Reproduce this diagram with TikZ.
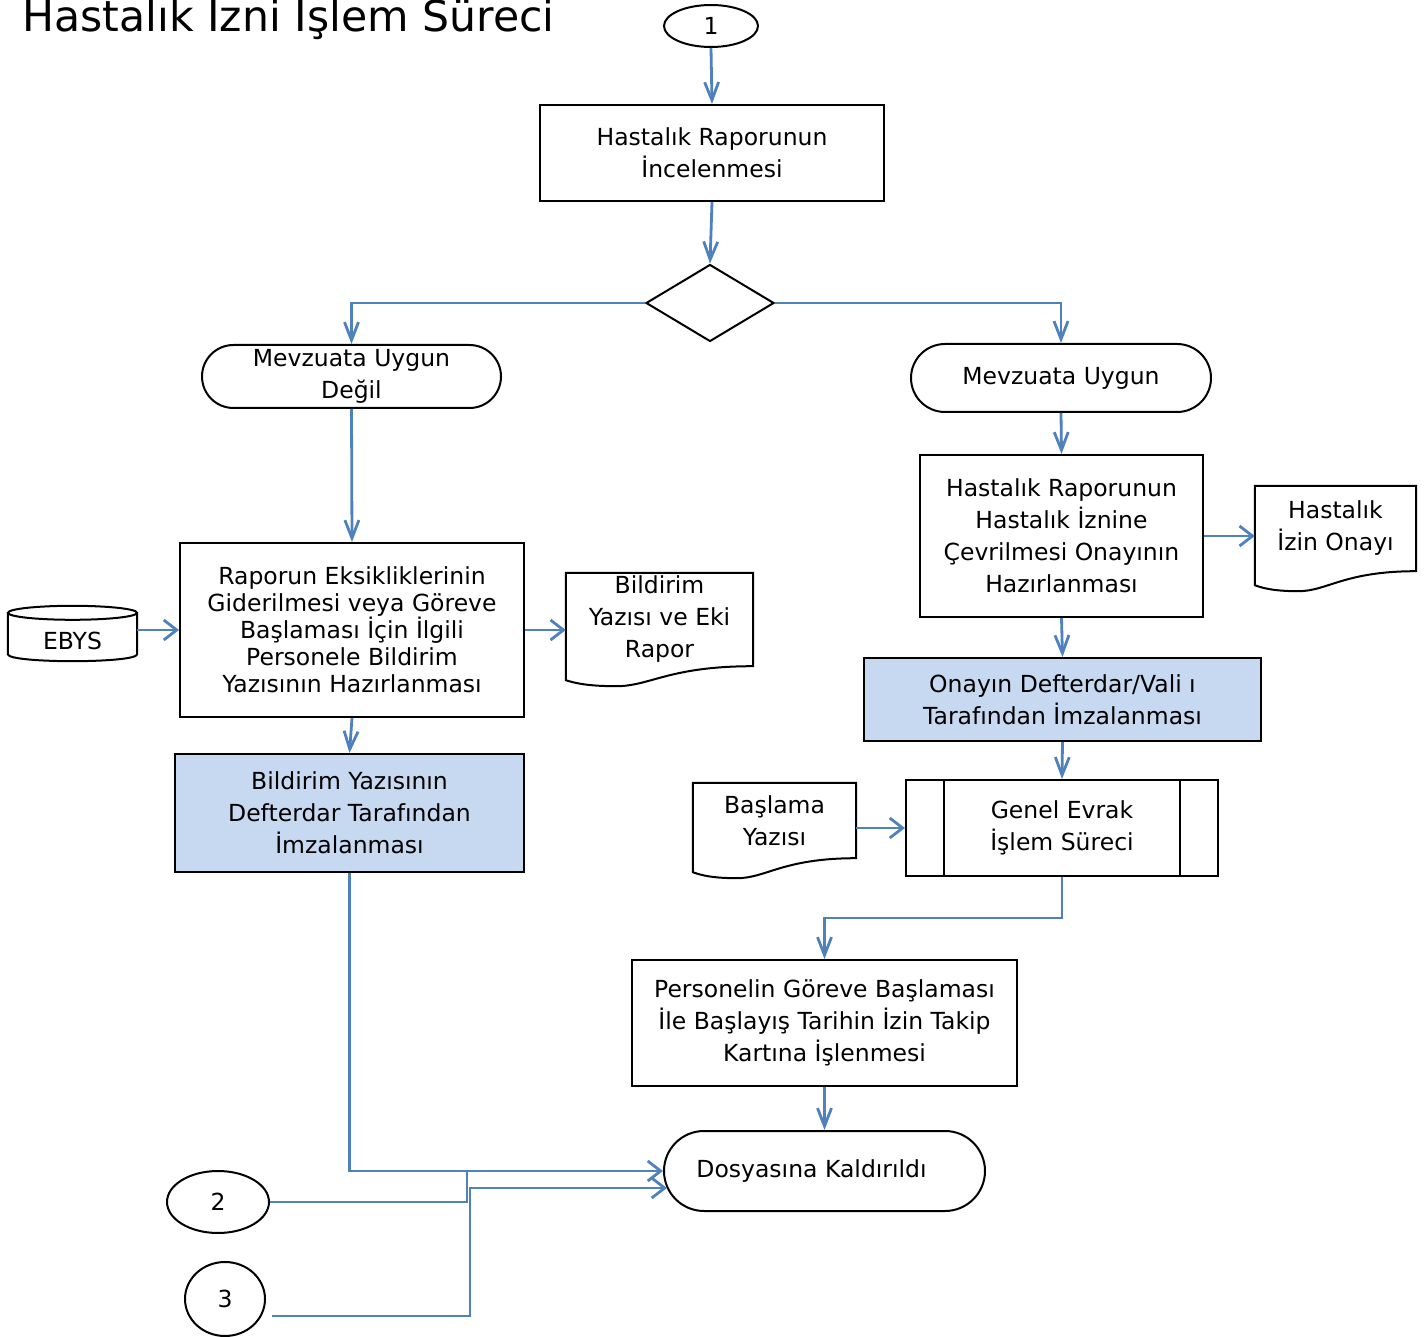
\documentclass[tikz,border=0pt]{standalone}
\usepackage{fontspec}
\setmainfont{DejaVu Sans}
\usetikzlibrary{arrows.meta,shapes.geometric,shapes.misc,calc}
\definecolor{lnblue}{HTML}{4F81BD}
\definecolor{fillblue}{HTML}{C6D9F1}
\newcommand\txtfont{\fontsize{23.5}{32}\selectfont}
\newcommand\docoutline[1]{%
  \draw[blk] ($(#1.south west)+(0,14)$) -- (#1.north west) -- (#1.north east) -- (#1.south east)
   .. controls ($(#1.south west)!0.55!(#1.south east)$) and ($(#1.south west)!0.45!(#1.south east)+(0,20)$) .. ($(#1.south west)!0.27!(#1.south east)+(0,20)$)
   .. controls ($(#1.south west)!0.12!(#1.south east)+(0,20)$) and ($(#1.south west)!0.05!(#1.south east)+(0,17)$) .. ($(#1.south west)+(0,14)$) -- cycle;}
\begin{document}
\begin{tikzpicture}[x=1pt,y=-1pt,
  blk/.style={draw=black,line width=2pt},
  box/.style={blk,fill=white,rectangle,align=center,inner sep=0pt,font=\txtfont},
  bluebox/.style={box,fill=fillblue},
  term/.style={blk,fill=white,rounded rectangle,align=center,inner sep=0pt,font=\txtfont},
  conn/.style={blk,fill=white,ellipse,inner sep=0pt,font=\txtfont},
  docn/.style={rectangle,align=center,inner sep=0pt,font=\txtfont},
  ln/.style={draw=lnblue,line width=2.8pt},
  av/.style={ln,-{Straight Barb[length=18pt,width=14pt]}},
  ah/.style={ln,-{Straight Barb[length=13pt,width=20pt]}}]
\fill[white] (0,0) rectangle (1428,1337);
\useasboundingbox (0,0) rectangle (1428,1337);

\node[anchor=base west,inner sep=0pt,font=\fontsize{42.6}{50}\selectfont] (title) at (22,32) {Hastalık İzni İşlem Süreci};

\node[conn,minimum width=94pt,minimum height=42pt] (c1) at (711,26) {1};
\node[box,minimum width=344pt,minimum height=96pt] (b1) at (712,153) {Hastalık Raporunun\\İncelenmesi};
\node[blk,fill=white,diamond,inner sep=0pt,minimum width=128pt,minimum height=77pt] (dia) at (710,303) {};
\node[term,minimum width=299pt,minimum height=63pt] (t1) at (351.5,376.5) {Mevzuata Uygun\\Değil};
\node[term,minimum width=300pt,minimum height=68pt] (t2) at (1061,378) {Mevzuata Uygun};

\node[box,minimum width=344pt,minimum height=174pt,font=\fontsize{23.5}{27}\selectfont] (b2) at (352,630) {Raporun Eksikliklerinin\\Giderilmesi veya Göreve\\Başlaması İçin İlgili\\Personele Bildirim\\Yazısının Hazırlanması};
\node[docn,minimum width=129pt,minimum height=55pt] (ebys) at (72.5,633.5) {};
\node[docn,minimum width=187pt,minimum height=93pt] (d1) at (659.5,619.5) {Bildirim\\Yazısı ve Eki\\Rapor};
\node[bluebox,minimum width=349pt,minimum height=118pt] (b3) at (349.5,813) {Bildirim Yazısının\\Defterdar Tarafından\\İmzalanması};

\node[box,minimum width=283pt,minimum height=162pt] (b4) at (1061.5,536) {Hastalık Raporunun\\Hastalık İznine\\Çevrilmesi Onayının\\Hazırlanması};
\node[docn,minimum width=161pt,minimum height=85pt] (d2) at (1335.5,528.5) {Hastalık\\İzin Onayı};
\node[bluebox,minimum width=397pt,minimum height=83pt] (b5) at (1062.5,699.5) {Onayın Defterdar/Vali ı\\Tarafından İmzalanması};
\node[box,minimum width=312pt,minimum height=96pt] (p1) at (1062,828) {Genel Evrak\\İşlem Süreci};
\node[docn,minimum width=163pt,minimum height=75pt] (d3) at (774.5,820.5) {Başlama\\Yazısı};
\node[box,minimum width=385pt,minimum height=126pt] (b6) at (824.5,1023) {Personelin Göreve Başlaması\\İle Başlayış Tarihin İzin Takip\\Kartına İşlenmesi};
\node[term,minimum width=321pt,minimum height=80pt] (t3) at (824.5,1171) {Dosyasına Kaldırıldı\hspace*{26pt}};

\node[conn,minimum width=102pt,minimum height=62pt] (c2) at (218,1202) {2};
\node[conn,minimum width=80pt,minimum height=74pt] (c3) at (225,1299) {3};

% shapes drawn by outline
\docoutline{d1}
\docoutline{d2}
\docoutline{d3}
\draw[blk] ($(ebys.north)+(0,7)$) ellipse [x radius=64.5pt,y radius=7pt];
\draw[blk] ($(ebys.north west)+(0,7)$) -- ($(ebys.south west)+(0,-7)$)
  .. controls ($(ebys.south west)+(0,2.3)$) and ($(ebys.south east)+(0,2.3)$) .. ($(ebys.south east)+(0,-7)$)
  -- ($(ebys.north east)+(0,7)$);
\node[inner sep=0pt,font=\txtfont] at ($(ebys.center)+(0,7)$) {EBYS};
\draw[blk] ([xshift=39pt]p1.north west) -- ([xshift=39pt]p1.south west);
\draw[blk] ([xshift=-39pt]p1.north east) -- ([xshift=-39pt]p1.south east);

\coordinate (m2) at (467,1171);
\coordinate (m3) at (470,1188);
\coordinate (s3) at (272,1316);

% connectors
\draw[av] (c1.south) -- (b1.north);
\draw[av] (b1.south) -- (dia.north);
\draw[av] (dia.west) -| (t1.north);
\draw[av] (dia.east) -| (t2.north);
\draw[av] (t1.south) -- (b2.north);
\draw[ah] (ebys.east |- b2.west) -- (b2.west);
\draw[ah] (b2.east) -- (b2.east -| d1.west);
\draw[av] (b2.south) -- (b3.north);
\draw[ah] (b3.south) |- (t3.west);
\draw[ln] (c2.east) -| (m2);
\draw[ah] (s3) -| (m3) -- ($(m3 -| t3.west)+(4,0)$);
\draw[av] (t2.south) -- (b4.north);
\draw[ah] (b4.east) -- (b4.east -| d2.west);
\draw[av] (b4.south) -- (b5.north);
\draw[av] (b5.south) -- (p1.north);
\draw[ah] (p1.west -| d3.east) -- (p1.west);
\draw[av] (p1.south) |- ($(p1.south)!0.5!(b6.north)$) -| (b6.north);
\draw[av] (b6.south) -- (t3.north);
\end{tikzpicture}
\end{document}
